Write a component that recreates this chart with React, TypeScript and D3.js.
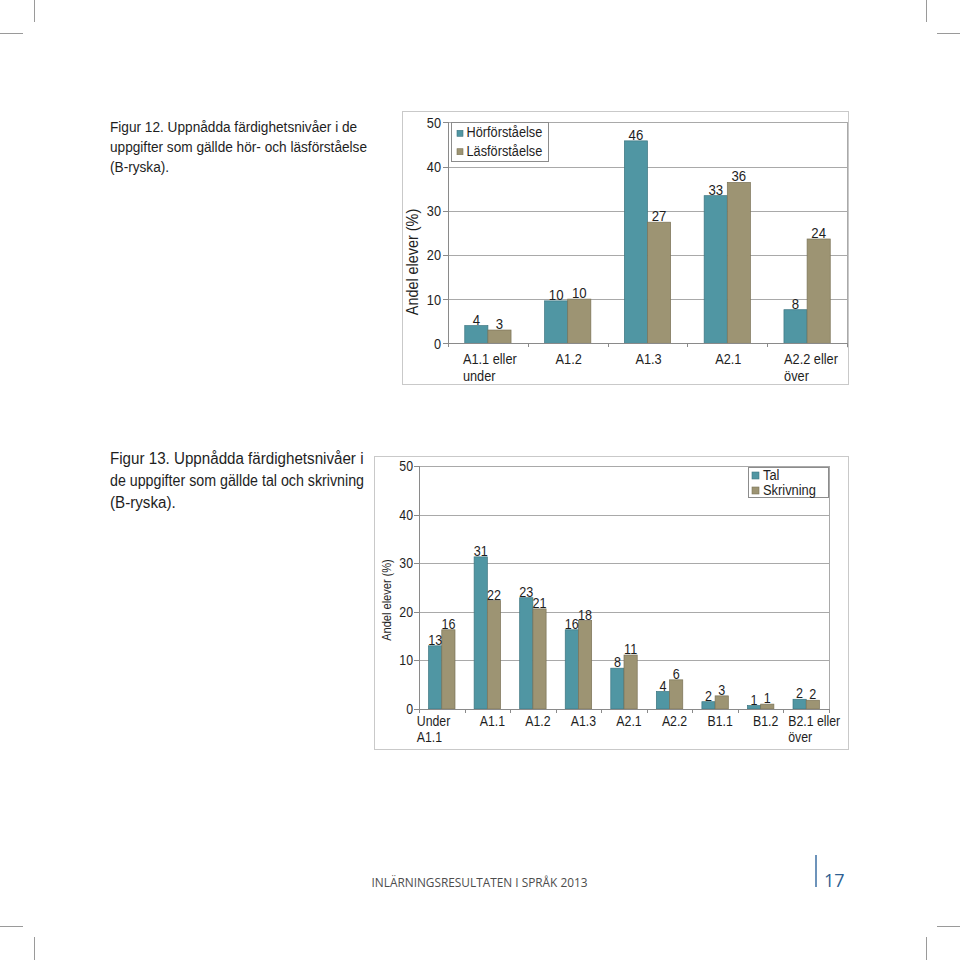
import React from "react";
import * as d3 from "d3";

// ---------- data ----------
const topCategories = ["A1.1 eller\nunder", "A1.2", "A1.3", "A2.1", "A2.2 eller\növer"];
const topSeries = ["Hörförståelse", "Läsförståelse"];
const topHor = [4, 9.6, 45.8, 33.4, 7.6];
const topLas = [3, 10, 27.4, 36.4, 23.6];

const bottomCategories = ["Under\nA1.1", "A1.1", "A1.2", "A1.3", "A2.1", "A2.2", "B1.1", "B1.2", "B2.1 eller\növer"];
const bottomSeries = ["Tal", "Skrivning"];
const bottomTal = [13, 31.3, 22.9, 16.3, 8.4, 3.6, 1.5, 0.7, 2.0];
const bottomSkr = [16.3, 22.3, 20.6, 18.2, 11.1, 6.0, 2.7, 1.0, 1.8];

const yTicks = [0, 10, 20, 30, 40, 50];
const yTitle = "Andel elever (%)";

const caption12 = [
  "Figur 12. Uppnådda färdighetsnivåer i de",
  "uppgifter som gällde hör- och läsförståelse",
  "(B-ryska).",
];
const caption13 = [
  "Figur 13. Uppnådda färdighetsnivåer i",
  "de uppgifter som gällde tal och skrivning",
  "(B-ryska).",
];
const footerText = "INLÄRNINGSRESULTATEN I SPRÅK 2013";
const pageNumber = "17";

// ---------- style ----------
const FONT = "'Liberation Sans', Arial, Helvetica, sans-serif";
const COLORS = ["#5096a3", "#9d9473"];
const STROKES = ["#3c7580", "#7b7357"];
const TEXT = "#1e1e1e";

type TProps = {
  x: number;
  y: number;
  sx: number;
  size: number;
  anchor?: "start" | "middle" | "end";
  rotate?: number;
  fill?: string;
  family?: string;
  lines?: string[];
  lineHeight?: number;
  textLength?: number;
  children?: React.ReactNode;
};

function T({ x, y, sx, size, anchor = "start", rotate, fill = TEXT, family = FONT, lines, lineHeight = 16, textLength, children }: TProps) {
  const tr = `translate(${x},${y})${rotate ? ` rotate(${rotate})` : ""} scale(${sx},1)`;
  const extra = textLength ? { textLength: textLength / sx, lengthAdjust: "spacingAndGlyphs" } : {};
  return (
    <text transform={tr} fontSize={size} textAnchor={anchor} fontFamily={family} fill={fill} {...extra}>
      {lines
        ? lines.map((l, i) => (
            <tspan key={i} x={0} dy={i === 0 ? 0 : lineHeight}>
              {l}
            </tspan>
          ))
        : children}
    </text>
  );
}

type Cfg = {
  frame: [number, number, number, number];
  left: number;
  right: number;
  top: number;
  bottom: number;
  font: number;
  sx: number;
  labelFont: number;
  labelSx: number;
  tickLabelDx: number;
  multiDx: number[];
  tickBase: number;
  tickLine: number;
  yLabelRight: number;
  title: { x: number; y: number; size: number; sx: number };
  legend: { x: number; y: number; w: number; h: number; sq: number; sqx: number; rows: number[]; tx: number; font: number; sx: number };
};

function BarChart({ cfg, categories, series, values }: { cfg: Cfg; categories: string[]; series: string[]; values: number[][] }) {
  const x0 = d3.scaleBand<string>().domain(categories).range([cfg.left, cfg.right]).padding(0);
  const bw = x0.bandwidth();
  const x1 = d3.scaleBand<string>().domain(series).range([bw * 0.21, bw * 0.79]).padding(0);
  const y = d3.scaleLinear().domain([0, 50]).range([cfg.bottom, cfg.top]);
  const boundaries = categories.map((c) => x0(c) as number).concat([cfg.right]);
  const [fx, fy, fw, fh] = cfg.frame;
  const L = cfg.legend;
  return (
    <g>
      <rect x={fx + 0.5} y={fy + 0.5} width={fw} height={fh} fill="#fff" stroke="#c9c9c9" strokeWidth={1} />
      {/* gridlines */}
      {yTicks.filter((t) => t > 0).map((t) => (
        <line key={t} x1={cfg.left} x2={cfg.right} y1={Math.round(y(t)) + 0.5} y2={Math.round(y(t)) + 0.5} stroke="#a9a9a9" strokeWidth={1} />
      ))}
      <line x1={cfg.right + 0.5} x2={cfg.right + 0.5} y1={Math.round(y(50))} y2={cfg.bottom + 4} stroke="#a9a9a9" />
      {/* bars */}
      {series.map((s, si) =>
        categories.map((c, ci) => {
          const v = values[si][ci];
          const bx = (x0(c) as number) + (x1(s) as number);
          return (
            <rect
              key={s + c}
              x={bx}
              y={y(v)}
              width={x1.bandwidth()}
              height={y(0) - y(v)}
              fill={COLORS[si]}
              stroke={STROKES[si]}
              strokeWidth={0.7}
            />
          );
        })
      )}
      {/* axes */}
      <line x1={cfg.left + 0.5} x2={cfg.left + 0.5} y1={Math.round(y(50))} y2={Math.round(y(0)) + 0.5} stroke="#8a8a8a" />
      <line x1={cfg.left} x2={cfg.right} y1={Math.round(y(0)) + 0.5} y2={Math.round(y(0)) + 0.5} stroke="#8a8a8a" />
      {yTicks.map((t) => (
        <g key={t}>
          <line x1={cfg.left - 5} x2={cfg.left} y1={Math.round(y(t)) + 0.5} y2={Math.round(y(t)) + 0.5} stroke="#8a8a8a" />
          <T x={cfg.yLabelRight} y={y(t) + cfg.font * 0.36} sx={cfg.sx} size={cfg.font} anchor="end">
            {t}
          </T>
        </g>
      ))}
      {boundaries.map((b, i) => (
        <line key={i} x1={Math.round(b) + 0.5} x2={Math.round(b) + 0.5} y1={Math.round(y(0))} y2={Math.round(y(0)) + 4} stroke="#8a8a8a" />
      ))}
      {/* category labels */}
      {categories.map((c, ci) => {
        const cx = (x0(c) as number) + bw / 2;
        const parts = c.split("\n");
        if (parts.length > 1) {
          return (
            <T key={c} x={cx + cfg.multiDx[ci === 0 ? 0 : 1]} y={cfg.tickBase} sx={cfg.sx} size={cfg.font} anchor="start" lines={parts} lineHeight={cfg.tickLine} />
          );
        }
        return (
          <T key={c} x={cx + cfg.tickLabelDx} y={cfg.tickBase} sx={cfg.sx} size={cfg.font} anchor="middle">
            {c}
          </T>
        );
      })}
      {/* value labels */}
      {series.map((s, si) =>
        categories.map((c, ci) => {
          const v = values[si][ci];
          const bx = (x0(c) as number) + (x1(s) as number) + x1.bandwidth() / 2;
          return (
            <T key={"l" + s + c} x={bx} y={y(v) - 1} sx={cfg.labelSx} size={cfg.labelFont} anchor="middle">
              {Math.round(v)}
            </T>
          );
        })
      )}
      {/* y title */}
      <T x={cfg.title.x} y={cfg.title.y} sx={cfg.title.sx} size={cfg.title.size} anchor="middle" rotate={-90}>
        {yTitle}
      </T>
      {/* legend */}
      <rect x={L.x + 0.5} y={L.y + 0.5} width={L.w} height={L.h} fill="#fff" stroke="#8c8c8c" />
      {series.map((s, si) => (
        <g key={s}>
          <rect x={L.sqx} y={L.rows[si] - L.sq - 1} width={L.sq} height={L.sq} fill={COLORS[si]} stroke={STROKES[si]} strokeWidth={0.6} />
          <T x={L.tx} y={L.rows[si]} sx={L.sx} size={L.font}>
            {s}
          </T>
        </g>
      ))}
    </g>
  );
}

const topCfg: Cfg = {
  frame: [402, 111, 446, 273],
  left: 448,
  right: 847,
  top: 122.3,
  bottom: 343.3,
  font: 15,
  sx: 0.85,
  labelFont: 15,
  labelSx: 0.88,
  tickLabelDx: 1,
  multiDx: [-25, -23],
  tickBase: 364,
  tickLine: 17,
  yLabelRight: 441,
  title: { x: 418, y: 262, size: 16, sx: 0.9 },
  legend: { x: 451, y: 122, w: 97, h: 39, sq: 6, sqx: 457, rows: [137.3, 155.7], tx: 466.5, font: 15, sx: 0.85 },
};

const bottomCfg: Cfg = {
  frame: [374, 456, 474, 293],
  left: 419,
  right: 829,
  top: 466,
  bottom: 709,
  font: 14,
  sx: 0.88,
  labelFont: 14,
  labelSx: 0.9,
  tickLabelDx: 5,
  multiDx: [-25, -18],
  tickBase: 725.7,
  tickLine: 16,
  yLabelRight: 413,
  title: { x: 391, y: 600, size: 13, sx: 0.85 },
  legend: { x: 748, y: 467, w: 80, h: 30, sq: 7, sqx: 752, rows: [480, 495], tx: 763, font: 14, sx: 0.92 },
};

function CropMarks() {
  const c = "#9a9a9a";
  return (
    <g stroke={c} strokeWidth={1} shapeRendering="crispEdges">
      <line x1={34} x2={34} y1={0} y2={22} />
      <line x1={0} x2={23} y1={33} y2={33} />
      <line x1={926} x2={926} y1={0} y2={22} />
      <line x1={937} x2={960} y1={33} y2={33} />
      <line x1={0} x2={23} y1={926} y2={926} />
      <line x1={34} x2={34} y1={937} y2={960} />
      <line x1={937} x2={960} y1={926} y2={926} />
      <line x1={926} x2={926} y1={937} y2={960} />
    </g>
  );
}

export default function App() {
  return (
    <svg
      width={960}
      height={960}
      viewBox="0 0 960 960"
      style={{ position: "absolute", left: 0, top: 0, background: "#fff" }}
    >
      <rect x={0} y={0} width={960} height={960} fill="#fff" />
      <CropMarks />
      <T x={110} y={132} sx={0.91} size={15} lines={caption12} lineHeight={20} />
      <T x={110} y={464} sx={0.96} size={15.8}>{caption13[0]}</T>
      <T x={110} y={486} sx={0.96} size={15.8} textLength={254}>{caption13[1]}</T>
      <T x={110} y={508} sx={0.96} size={15.8}>{caption13[2]}</T>
      <BarChart cfg={topCfg} categories={topCategories} series={topSeries} values={[topHor, topLas]} />
      <BarChart cfg={bottomCfg} categories={bottomCategories} series={bottomSeries} values={[bottomTal, bottomSkr]} />
      {/* footer */}
      <text x={371.5} y={887} fontSize={13} fontFamily="'Open Sans', sans-serif" fill="#4d4d4d" textLength={216} lengthAdjust="spacingAndGlyphs">
        {footerText}
      </text>
      <line x1={816} x2={816} y1={855} y2={887} stroke="#3d6fa3" strokeWidth={1.5} />
      <text x={824} y={887} fontSize={18} fontFamily="'Open Sans', sans-serif" fill="#2f5f92">
        {pageNumber}
      </text>
    </svg>
  );
}
